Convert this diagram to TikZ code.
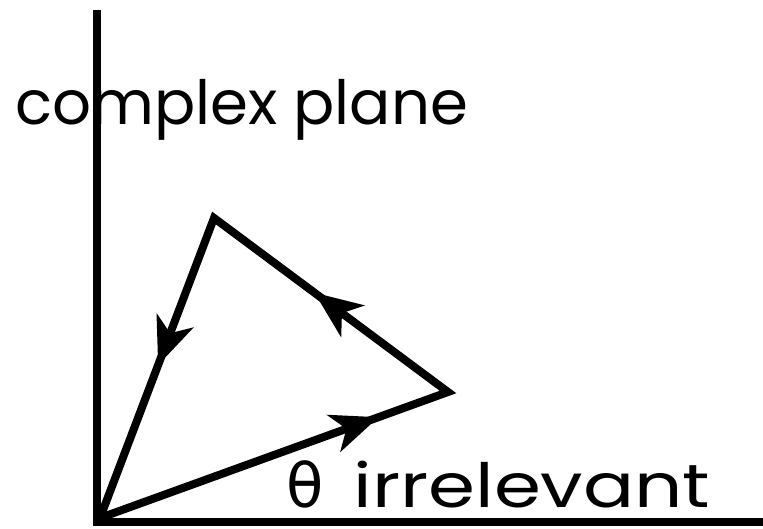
\documentclass[tikz,border=0pt]{standalone}
\usepackage{fontspec}
\setmainfont{Poppins}
\newfontfamily\greekfont{DejaVu Sans}
\usetikzlibrary{arrows.meta,decorations.markings}
\tikzset{
  axisline/.style={line width=8pt, line cap=butt},
  edgeline/.style={line width=8pt, line join=miter},
  label/.style={anchor=base west, inner sep=0pt, font=\fontsize{61}{72}\selectfont},
  midarrow/.style={decorate, decoration={markings,
     mark=at position #1 with {\arrow[line width=0pt]{Stealth[length=48pt,width=40pt,inset=14pt]}}}}
}
\begin{document}
\begin{tikzpicture}[x=1pt,y=-1pt]
\useasboundingbox (0,0) rectangle (763,529);
\coordinate (axtop) at (97,10);
\coordinate (axorig) at (97,522);
\coordinate (axright) at (763,522);
\coordinate (O) at (100,518);
\coordinate (A) at (448,392);
\coordinate (B) at (214,218);
\node[label] (t1) at (15,125) {complex plane};
\node[label] (t2) at (286,507) {{\greekfont θ}\hspace{30pt}\scalebox{1.24}[1]{irrelevant}};
\draw[axisline] (axtop) -- (axorig);
\draw[axisline] (93,522) -- (axright);
\draw[edgeline] (O) -- (A) -- (B) -- cycle;
\path[midarrow=0.8] (O) -- (A);
\path[midarrow=0.57] (A) -- (B);
\path[midarrow=0.49] (B) -- (O);
\end{tikzpicture}
\end{document}
